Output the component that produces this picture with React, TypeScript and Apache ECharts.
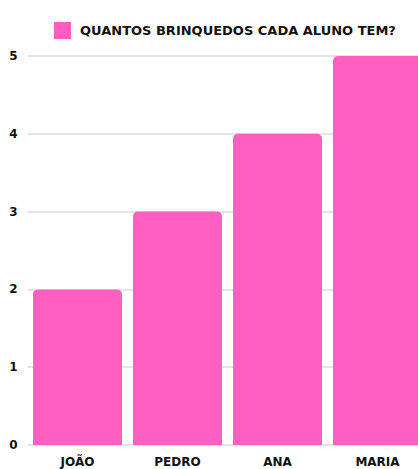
import React, { useEffect, useRef } from "react";
import * as echarts from "echarts";

const categories = ["JOÃO", "PEDRO", "ANA", "MARIA"];
const values = [2, 3, 4, 5];
const seriesName = "QUANTOS BRINQUEDOS CADA ALUNO TEM?";

export default function App() {
  const ref = useRef<HTMLDivElement>(null);
  useEffect(() => {
    const chart = echarts.init(ref.current!, undefined, { renderer: "svg" });
    const font = "DejaVu Sans";
    chart.setOption({
      animation: false,
      backgroundColor: "#ffffff",
      textStyle: { fontFamily: font },
      legend: {
        data: [seriesName],
        top: 17,
        left: 49,
        itemWidth: 17,
        itemHeight: 17,
        itemGap: 10,
        icon: "rect",
        textStyle: {
          fontFamily: font,
          fontWeight: "bold",
          fontSize: 13,
          color: "#111",
          padding: [0, 0, 0, 4],
        },
      },
      grid: { left: 27.5, top: 56, width: 400, bottom: 24, containLabel: false },
      xAxis: {
        type: "category",
        data: categories,
        axisLine: { show: false },
        axisTick: { show: false },
        axisLabel: {
          margin: 11,
          fontFamily: font,
          fontWeight: "bold",
          fontSize: 12,
          color: "#111",
        },
      },
      yAxis: {
        type: "value",
        min: 0,
        max: 5,
        interval: 1,
        axisLine: { show: false },
        axisTick: { show: false },
        axisLabel: {
          margin: 10,
          fontFamily: font,
          fontWeight: "bold",
          fontSize: 12,
          color: "#111",
        },
        splitLine: { lineStyle: { color: "#dcdcdc", width: 1.5 } },
      },
      series: [
        {
          name: seriesName,
          type: "bar",
          data: values,
          barCategoryGap: "11%",
          itemStyle: { color: "#ff5fc0", borderRadius: [5, 5, 0, 0] },
        },
      ],
    });
    return () => chart.dispose();
  }, []);
  return (
    <div style={{ position: "fixed", left: 0, top: 0, width: 418, height: 469, overflow: "hidden" }}>
      <div ref={ref} style={{ width: 430, height: 469 }} />
    </div>
  );
}
